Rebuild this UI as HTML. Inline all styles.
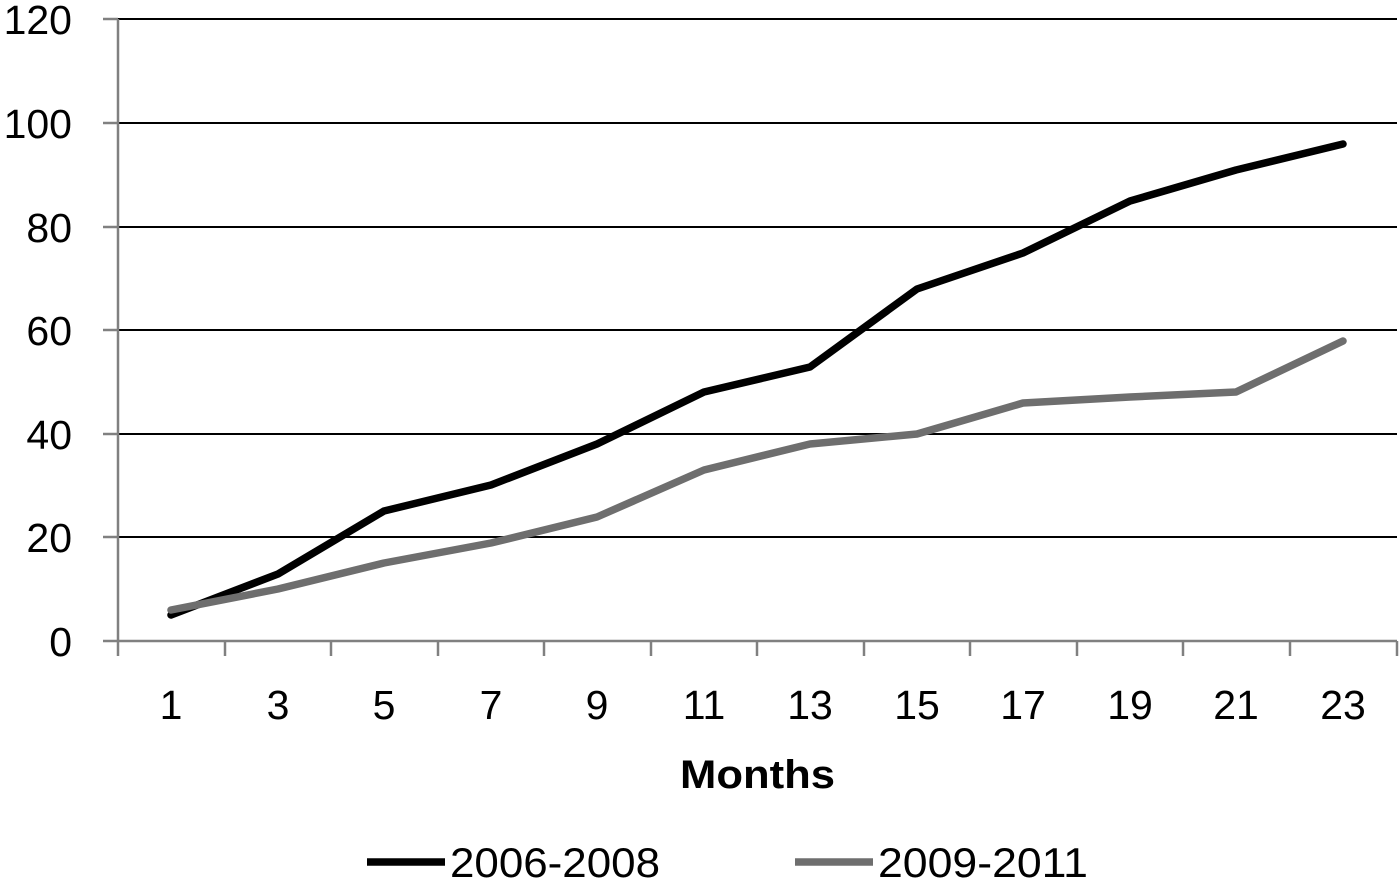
<!DOCTYPE html>
<html><head><style>body{margin:0;background:#fff}svg{display:block}</style></head><body>
<svg width="1400" height="881" xmlns="http://www.w3.org/2000/svg" font-family="Liberation Sans, sans-serif">
<g stroke="#000" stroke-width="2">
<line x1="118" y1="19" x2="1397" y2="19"/>
<line x1="118" y1="123" x2="1397" y2="123"/>
<line x1="118" y1="227" x2="1397" y2="227"/>
<line x1="118" y1="330" x2="1397" y2="330"/>
<line x1="118" y1="434" x2="1397" y2="434"/>
<line x1="118" y1="537" x2="1397" y2="537"/>
</g>
<g stroke="#808080" stroke-width="2.5">
<line x1="118" y1="19" x2="118" y2="656"/>
<line x1="103" y1="641" x2="1397" y2="641"/>
<line x1="103" y1="19" x2="118" y2="19"/><line x1="103" y1="123" x2="118" y2="123"/><line x1="103" y1="227" x2="118" y2="227"/><line x1="103" y1="330" x2="118" y2="330"/><line x1="103" y1="434" x2="118" y2="434"/><line x1="103" y1="537" x2="118" y2="537"/>
<line x1="225" y1="641" x2="225" y2="656"/><line x1="331" y1="641" x2="331" y2="656"/><line x1="438" y1="641" x2="438" y2="656"/><line x1="544" y1="641" x2="544" y2="656"/><line x1="651" y1="641" x2="651" y2="656"/><line x1="757" y1="641" x2="757" y2="656"/><line x1="864" y1="641" x2="864" y2="656"/><line x1="970" y1="641" x2="970" y2="656"/><line x1="1077" y1="641" x2="1077" y2="656"/><line x1="1183" y1="641" x2="1183" y2="656"/><line x1="1290" y1="641" x2="1290" y2="656"/><line x1="1397" y1="641" x2="1397" y2="656"/>
</g>
<g font-size="41" text-anchor="end" fill="#000">
<text x="72" y="34">120</text><text x="72" y="138">100</text><text x="72" y="242">80</text><text x="72" y="345">60</text><text x="72" y="449">40</text><text x="72" y="552">20</text><text x="72" y="656">0</text>
</g>
<g font-size="41" text-anchor="middle" fill="#000">
<text x="171" y="719">1</text><text x="278" y="719">3</text><text x="384" y="719">5</text><text x="491" y="719">7</text><text x="597" y="719">9</text><text x="704" y="719">11</text><text x="810" y="719">13</text><text x="917" y="719">15</text><text x="1023" y="719">17</text><text x="1130" y="719">19</text><text x="1236" y="719">21</text><text x="1343" y="719">23</text>
</g>
<text x="680" y="788" font-size="40" font-weight="bold" textLength="155" lengthAdjust="spacingAndGlyphs">Months</text>
<polyline fill="none" stroke="#000" stroke-width="7.5" stroke-linejoin="round" stroke-linecap="round" points="171,615 278,574 384,511 491,485 597,444 704,392 810,367 917,289 1023,253 1130,201 1236,170 1343,144"/>
<polyline fill="none" stroke="#6e6e6e" stroke-width="7.5" stroke-linejoin="round" stroke-linecap="round" points="171,610 278,589 384,563 491,543 597,517 704,470 810,444 917,434 1023,403 1130,397 1236,392 1343,341"/>
<line x1="367" y1="862" x2="445" y2="862" stroke="#000" stroke-width="7.5"/>
<text x="450" y="877" font-size="42" textLength="210" lengthAdjust="spacingAndGlyphs">2006-2008</text>
<line x1="795" y1="862" x2="873" y2="862" stroke="#6e6e6e" stroke-width="7.5"/>
<text x="878" y="877" font-size="42" textLength="210" lengthAdjust="spacingAndGlyphs">2009-2011</text>
</svg>
</body></html>
